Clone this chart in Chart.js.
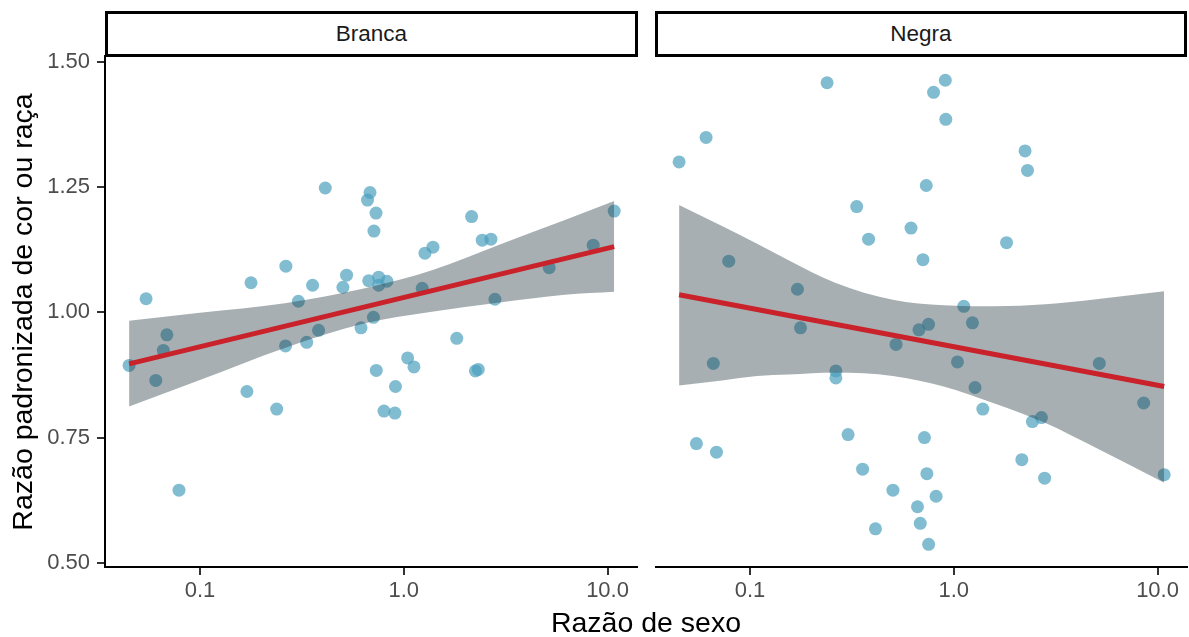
<!DOCTYPE html>
<html>
<head>
<meta charset="utf-8">
<script src="https://cdn.jsdelivr.net/npm/chart.js@4/dist/chart.umd.min.js"></script>
<style>
html,body{margin:0;padding:0;background:#fff;}
body{width:1189px;height:637px;position:relative;overflow:hidden;font-family:"Liberation Sans",Arial,sans-serif;}
canvas{position:absolute;top:40px;}
.strip{position:absolute;top:11px;height:46px;box-sizing:border-box;border:3px solid #000;text-align:center;font-size:22.5px;line-height:40px;color:#1a1a1a;background:#fff;z-index:2;}
.xtitle{position:absolute;left:346px;top:608px;width:600px;height:28px;line-height:28px;font-size:28.5px;text-align:center;color:#000;}
.ytitle{position:absolute;left:-278px;top:297.5px;width:600px;height:28px;line-height:28px;font-size:28.5px;text-align:center;color:#000;transform:rotate(-90deg);white-space:nowrap;}
</style>
</head>
<body>
<div class="strip" id="s1" style="left:105px;width:533px;"></div>
<div class="strip" id="s2" style="left:655px;width:532px;"></div>
<canvas id="c1" width="640" height="597" style="left:0px;"></canvas>
<canvas id="c2" width="534" height="597" style="left:655px;"></canvas>
<div class="xtitle" id="xt"></div>
<div class="ytitle" id="yt"></div>
<script>
// ---- text ----
const panelNames = ['Branca', 'Negra'];
const xAxisTitle = 'Razão de sexo';
const yAxisTitle = 'Razão padronizada de cor ou raça';

// ---- ticks ----
const xTicks = [0.1, 1, 10];
const xTickLabels = ['0.1', '1.0', '10.0'];
const yTicks = [0.5, 0.75, 1.0, 1.25, 1.5];

// ---- Branca points ----
const brancaX = [0.0449, 0.0544, 0.0607, 0.0661, 0.0688, 0.0789, 0.170, 0.178, 0.238, 0.264, 0.263, 0.304, 0.334, 0.357, 0.382, 0.412, 0.503, 0.524, 0.617, 0.664, 0.683, 0.731, 0.714, 0.673, 0.710, 0.733, 0.753, 0.753, 0.827, 0.800, 0.911, 0.905, 1.045, 1.122, 1.232, 1.271, 1.391, 1.820, 2.153, 2.247, 2.321, 2.427, 2.678, 2.802, 5.173, 8.503, 10.78];
const brancaY = [0.894, 1.027, 0.864, 0.924, 0.955, 0.645, 0.842, 1.059, 0.807, 1.092, 0.933, 1.022, 0.940, 1.054, 0.964, 1.248, 1.050, 1.074, 0.969, 1.224, 1.239, 1.198, 1.162, 1.063, 0.990, 0.884, 1.070, 1.054, 1.062, 0.803, 0.852, 0.799, 0.909, 0.891, 1.048, 1.118, 1.130, 0.948, 1.191, 0.883, 0.886, 1.144, 1.146, 1.026, 1.089, 1.134, 1.202];

// ---- Negra points ----
const negraX = [0.0449, 0.0546, 0.0609, 0.0661, 0.0685, 0.0787, 0.171, 0.177, 0.239, 0.264, 0.264, 0.303, 0.334, 0.357, 0.382, 0.413, 0.503, 0.521, 0.617, 0.664, 0.675, 0.685, 0.706, 0.718, 0.733, 0.738, 0.752, 0.753, 0.796, 0.819, 0.909, 0.914, 1.043, 1.120, 1.235, 1.272, 1.389, 1.816, 2.158, 2.238, 2.301, 2.432, 2.693, 2.792, 5.179, 8.552, 10.78];
const negraY = [1.300, 0.738, 1.349, 0.898, 0.721, 1.102, 1.046, 0.969, 1.458, 0.883, 0.869, 0.756, 1.211, 0.687, 1.146, 0.568, 0.645, 0.936, 1.168, 0.612, 0.965, 0.579, 1.105, 0.750, 1.253, 0.678, 0.976, 0.537, 1.439, 0.633, 1.463, 1.385, 0.901, 1.012, 0.979, 0.850, 0.807, 1.139, 0.706, 1.322, 1.283, 0.782, 0.790, 0.669, 0.898, 0.819, 0.676];

// ---- fitted lines ----
const brancaFitX = [0.0449, 10.78];
const brancaFitY = [0.897, 1.131];
const negraFitX = [0.0449, 10.78];
const negraFitY = [1.035, 0.852];

// ---- confidence bands ----
const brancaBandX = [0.0449, 0.100, 0.261, 0.645, 1.375, 2.899, 6.178, 10.78];
const brancaBandUpper = [0.983, 0.999, 1.018, 1.048, 1.084, 1.134, 1.184, 1.222];
const brancaBandLower = [0.812, 0.865, 0.929, 0.978, 1.001, 1.019, 1.035, 1.041];
const negraBandX = [0.0449, 0.0729, 0.1084, 0.1547, 0.2617, 0.5021, 0.8923, 1.585, 2.818, 5.006, 10.78];
const negraBandUpper = [1.214, 1.172, 1.137, 1.104, 1.059, 1.025, 1.014, 1.012, 1.016, 1.026, 1.042];
const negraBandLower = [0.854, 0.864, 0.873, 0.876, 0.880, 0.873, 0.852, 0.818, 0.779, 0.729, 0.660];

// ---- axis ranges ----
const X_MIN = 0.0342, X_MAX = 13.95;
const Y_MIN = 0.4918, Y_MAX = 1.5114;

const FONT = '"Liberation Sans", Arial, sans-serif';
const PT_COLOR = 'rgba(75,160,190,0.70)';
const BAND_COLOR = 'rgba(35,55,62,0.40)';
const LINE_COLOR = '#c9222a';
const NONE = 'rgba(0,0,0,0)';

document.getElementById('s1').textContent = panelNames[0];
document.getElementById('s2').textContent = panelNames[1];
document.getElementById('xt').textContent = xAxisTitle;
document.getElementById('yt').textContent = yAxisTitle;

const zip = (xs, ys) => xs.map((x, i) => ({x: x, y: ys[i]}));

function makeChart(id, px, py, bx, bu, bl, fx, fy, showY) {
  const tickFont = {family: FONT, size: 22};
  return new Chart(document.getElementById(id), {
    type: 'scatter',
    data: {
      datasets: [
        {type: 'scatter', data: zip(px, py), pointRadius: 6.5, pointHoverRadius: 6.5,
         backgroundColor: PT_COLOR, pointBackgroundColor: PT_COLOR, pointBorderWidth: 0, borderColor: NONE, order: 3},
        {type: 'line', data: zip(bx, bu), borderColor: NONE, borderWidth: 0, pointRadius: 0,
         fill: '+1', backgroundColor: BAND_COLOR, cubicInterpolationMode: 'monotone', tension: 0.4, order: 2},
        {type: 'line', data: zip(bx, bl), borderColor: NONE, borderWidth: 0, pointRadius: 0,
         fill: false, cubicInterpolationMode: 'monotone', tension: 0.4, order: 2},
        {type: 'line', data: zip(fx, fy), borderColor: LINE_COLOR, borderWidth: 5, pointRadius: 0,
         fill: false, tension: 0, order: 1, borderCapStyle: 'butt'}
      ]
    },
    options: {
      responsive: false, animation: false, devicePixelRatio: 1,
      layout: {autoPadding: false, padding: {left: 0, right: showY ? 3 : 2, top: 16, bottom: 0}},
      plugins: {legend: {display: false}, tooltip: {enabled: false}},
      events: [],
      scales: {
        x: {
          type: 'logarithmic', min: X_MIN, max: X_MAX,
          afterBuildTicks: s => { s.ticks = xTicks.map(v => ({value: v})); },
          afterFit: s => { s.height = 70; s.paddingLeft = 0; s.paddingRight = 0; },
          ticks: {autoSkip: false, maxRotation: 0, minRotation: 0, padding: 3, color: '#4d4d4d', font: tickFont,
                  callback: (v, i) => xTickLabels[i]},
          grid: {display: true, drawOnChartArea: false, drawTicks: true, tickLength: 8, color: '#333333', lineWidth: 2},
          border: {display: true, color: '#000000', width: 2}
        },
        y: {
          type: 'linear', display: showY, min: Y_MIN, max: Y_MAX,
          afterBuildTicks: s => { s.ticks = yTicks.map(v => ({value: v})); },
          afterFit: s => { s.width = showY ? 105 : 0; s.paddingTop = 0; s.paddingBottom = 0; },
          ticks: {padding: 7, color: '#4d4d4d', font: tickFont, callback: v => Number(v).toFixed(2)},
          grid: {display: true, drawOnChartArea: false, drawTicks: true, tickLength: 8, color: '#333333', lineWidth: 2},
          border: {display: true, color: '#000000', width: 2}
        }
      }
    }
  });
}

makeChart('c1', brancaX, brancaY, brancaBandX, brancaBandUpper, brancaBandLower, brancaFitX, brancaFitY, true);
makeChart('c2', negraX, negraY, negraBandX, negraBandUpper, negraBandLower, negraFitX, negraFitY, false);
</script>
</body>
</html>
